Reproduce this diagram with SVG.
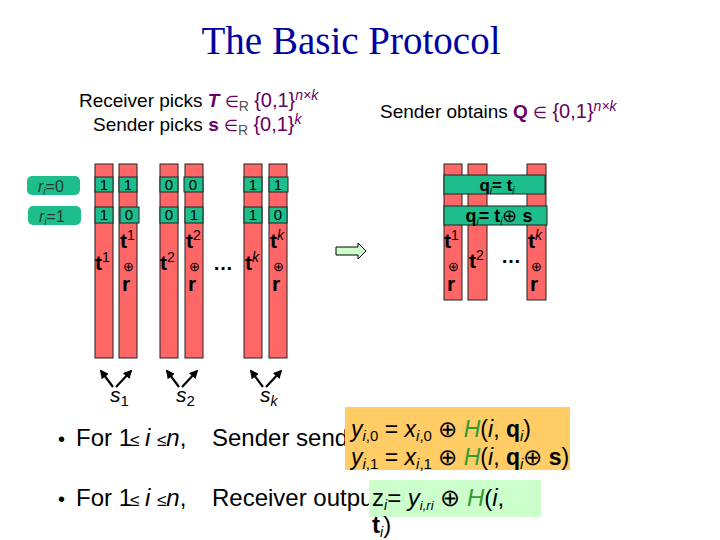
<svg xmlns="http://www.w3.org/2000/svg" width="720" height="540" viewBox="0 0 720 540">
<defs>
<style>
text{font-family:"Liberation Sans",Arial,sans-serif;fill:#000}
.col{fill:#FF6666;stroke:#222;stroke-width:1}
.cell{fill:#1DBE8C;stroke:#222;stroke-width:1}
.band{fill:#1DBE8C;stroke:#222;stroke-width:1}
.lab{fill:#1DBE8C}
.cv{font-size:15px;text-anchor:middle}
.tb{font-size:21px;font-weight:bold}
.sup{font-size:14px;font-weight:normal}
.op{font-size:13px;text-anchor:middle}
.pu{fill:#660066}
.gr{fill:#339933}
.arr{stroke:#000;stroke-width:2.2;fill:none;marker-end:url(#ah)}
</style>
<marker id="ah" viewBox="0 0 10 10" refX="8" refY="5" markerWidth="4" markerHeight="4" orient="auto"><path d="M0,0 L10,5 L0,10 z" fill="#000"/></marker>
</defs>
<rect width="720" height="540" fill="#fff"/>
<text x="351" y="54" text-anchor="middle" style="font-family:'Liberation Serif','Times New Roman',serif;font-size:39px;fill:#0000A0">The Basic Protocol</text>

<g id="receiver-picks">
<text x="79" y="107" style="font-size:19px">Receiver picks <tspan class="pu" font-style="italic" font-weight="bold">T</tspan> <tspan class="pu" font-size="16">∈</tspan><tspan fill="#555" font-size="14" dy="4">R</tspan> <tspan class="pu" dy="-4" font-size="20">{0,1}</tspan><tspan class="pu" font-size="14" font-style="italic" dy="-7">n×k</tspan></text>
<text x="93" y="131" style="font-size:19px">Sender picks <tspan class="pu" font-weight="bold">s</tspan> <tspan class="pu" font-size="16">∈</tspan><tspan fill="#555" font-size="14" dy="4">R</tspan> <tspan class="pu" dy="-4" font-size="20">{0,1}</tspan><tspan class="pu" font-size="14" font-style="italic" dy="-7">k</tspan></text>
</g>
<g id="sender-obtains">
<text x="380" y="118" style="font-size:19px">Sender obtains <tspan class="pu" font-weight="bold">Q</tspan> <tspan class="pu" font-size="16">∈</tspan> <tspan class="pu" font-size="20">{0,1}</tspan><tspan class="pu" font-size="14" font-style="italic" dy="-7">n×k</tspan></text>
</g>

<g id="label-r0">
<rect class="lab" x="27" y="176" width="53" height="19" rx="5"/>
<text x="38" y="192" style="font-size:16px;fill:#2b3b33"><tspan font-style="italic" style="fill:#2b3b33">r</tspan><tspan font-style="italic" font-size="10" dy="3" style="fill:#2b3b33">i</tspan><tspan dy="-3" style="fill:#2b3b33">=0</tspan></text>
</g>
<g id="label-r1">
<rect class="lab" x="28" y="206" width="53" height="19" rx="5"/>
<text x="39" y="222" style="font-size:16px;fill:#2b3b33"><tspan font-style="italic" style="fill:#2b3b33">r</tspan><tspan font-style="italic" font-size="10" dy="3" style="fill:#2b3b33">i</tspan><tspan dy="-3" style="fill:#2b3b33">=1</tspan></text>
</g>

<g id="col-t1">
<rect class="col" x="95" y="164" width="18" height="194"/>
<rect class="cell" x="95" y="177" width="18" height="15"/><text class="cv" x="104" y="190">1</text>
<rect class="cell" x="95" y="207" width="18" height="16"/><text class="cv" x="104" y="220">1</text>
<text class="tb" x="95" y="270">t<tspan class="sup" dy="-8">1</tspan></text>
</g>
<g id="col-t1r">
<rect class="col" x="119" y="164" width="18" height="194"/>
<rect class="cell" x="119" y="177" width="18" height="15"/><text class="cv" x="128" y="190">1</text>
<rect class="cell" x="120" y="207" width="19" height="16"/><text class="cv" x="129" y="220">0</text>
<text class="tb" x="120" y="248">t<tspan class="sup" dy="-8">1</tspan></text>
<text class="op" x="128" y="271">⊕</text>
<text class="tb" x="122" y="291">r</text>
</g>
<g id="col-t2">
<rect class="col" x="160" y="164" width="18" height="194"/>
<rect class="cell" x="160" y="177" width="18" height="15"/><text class="cv" x="169" y="190">0</text>
<rect class="cell" x="160" y="207" width="18" height="16"/><text class="cv" x="169" y="220">0</text>
<text class="tb" x="160" y="270">t<tspan class="sup" dy="-8">2</tspan></text>
</g>
<g id="col-t2r">
<rect class="col" x="185" y="164" width="18" height="194"/>
<rect class="cell" x="184" y="177" width="19" height="15"/><text class="cv" x="193" y="190">0</text>
<rect class="cell" x="185" y="207" width="18" height="16"/><text class="cv" x="194" y="220">1</text>
<text class="tb" x="186" y="248">t<tspan class="sup" dy="-8">2</tspan></text>
<text class="op" x="194" y="271">⊕</text>
<text class="tb" x="188" y="291">r</text>
</g>
<text x="213" y="270" style="font-size:20px;font-weight:bold">…</text>
<g id="col-tk">
<rect class="col" x="244" y="164" width="18" height="194"/>
<rect class="cell" x="244" y="177" width="18" height="15"/><text class="cv" x="253" y="190">1</text>
<rect class="cell" x="244" y="207" width="18" height="16"/><text class="cv" x="253" y="220">1</text>
<text class="tb" x="245" y="270">t<tspan class="sup" font-style="italic" dy="-8">k</tspan></text>
</g>
<g id="col-tkr">
<rect class="col" x="269" y="164" width="18" height="194"/>
<rect class="cell" x="269" y="177" width="19" height="15"/><text class="cv" x="278" y="190">1</text>
<rect class="cell" x="269" y="207" width="18" height="16"/><text class="cv" x="278" y="220">0</text>
<text class="tb" x="270" y="248">t<tspan class="sup" font-style="italic" dy="-8">k</tspan></text>
<text class="op" x="278" y="271">⊕</text>
<text class="tb" x="272" y="291">r</text>
</g>

<g id="connectors">
<line class="arr" x1="113" y1="387" x2="101" y2="371"/>
<line class="arr" x1="116" y1="387" x2="131" y2="371"/>
<line class="arr" x1="179" y1="387" x2="167" y2="371"/>
<line class="arr" x1="182" y1="387" x2="197" y2="371"/>
<line class="arr" x1="263" y1="387" x2="251" y2="371"/>
<line class="arr" x1="266" y1="387" x2="281" y2="371"/>
<path d="M336,247 H358 V243 L366,251 L358,259 V255 H336 Z" fill="#CCFFCC" stroke="#000" stroke-width="1"/>
</g>
<g id="s-labels">
<text x="110" y="402" style="font-size:21px;font-style:italic">s<tspan font-size="15" font-style="normal" dy="4">1</tspan></text>
<text x="176" y="402" style="font-size:21px;font-style:italic">s<tspan font-size="15" font-style="normal" dy="4">2</tspan></text>
<text x="260" y="402" style="font-size:21px;font-style:italic">s<tspan font-size="14" dy="4">k</tspan></text>
</g>

<g id="sender-cols">
<rect class="col" x="444" y="164" width="18" height="136"/>
<rect class="col" x="468" y="164" width="19" height="136"/>
<rect class="col" x="527" y="164" width="19" height="136"/>
<rect class="band" x="444" y="175" width="101" height="19"/>
<text x="497" y="191" text-anchor="middle" style="font-size:17px;font-weight:bold">q<tspan font-size="10" font-style="italic" font-weight="normal" dy="3">i</tspan><tspan dy="-3">= t</tspan><tspan font-size="10" font-style="italic" font-weight="normal" dy="3">i</tspan></text>
<rect class="band" x="444" y="206" width="103" height="19"/>
<text x="499" y="222" text-anchor="middle" style="font-size:18px;font-weight:bold">q<tspan font-size="10" font-style="italic" font-weight="normal" dy="3">i</tspan><tspan dy="-3">= t</tspan><tspan font-size="10" font-style="italic" font-weight="normal" dy="3">i</tspan><tspan font-weight="normal" dy="-3">⊕</tspan> s</text>
<text class="tb" x="444" y="248">t<tspan class="sup" dy="-8">1</tspan></text>
<text class="op" x="453" y="271">⊕</text>
<text class="tb" x="447" y="291">r</text>
<text class="tb" x="469" y="268">t<tspan class="sup" dy="-8">2</tspan></text>
<text x="501" y="263" style="font-size:20px;font-weight:bold">…</text>
<text class="tb" x="528" y="248">t<tspan class="sup" font-style="italic" dy="-8">k</tspan></text>
<text class="op" x="536" y="271">⊕</text>
<text class="tb" x="530" y="291">r</text>
</g>

<g id="bullet-sender">
<text x="58" y="446" style="font-size:20px">•</text>
<text x="76" y="446" style="font-size:24px">For 1<tspan x="130" font-size="17">≤</tspan><tspan x="145" font-style="italic">i</tspan><tspan x="157" font-size="17">≤</tspan><tspan font-style="italic">n</tspan>,<tspan x="212">Sender sends</tspan></text>
<rect x="345" y="407" width="225" height="63" fill="#FFCC66"/>
<text x="351" y="437" style="font-size:23px"><tspan font-style="italic">y</tspan><tspan font-size="15" font-style="italic" dy="4">i</tspan><tspan font-size="15">,0</tspan><tspan dy="-4"> = </tspan><tspan font-style="italic">x</tspan><tspan font-size="15" font-style="italic" dy="4">i</tspan><tspan font-size="15">,0</tspan><tspan dy="-4"> ⊕ </tspan><tspan class="gr" font-style="italic">H</tspan>(<tspan font-style="italic">i</tspan>, <tspan font-weight="bold">q</tspan><tspan font-size="15" font-style="italic" dy="4">i</tspan><tspan dy="-4">)</tspan></text>
<text x="351" y="465" style="font-size:23px"><tspan font-style="italic">y</tspan><tspan font-size="15" font-style="italic" dy="4">i</tspan><tspan font-size="15">,1</tspan><tspan dy="-4"> = </tspan><tspan font-style="italic">x</tspan><tspan font-size="15" font-style="italic" dy="4">i</tspan><tspan font-size="15">,1</tspan><tspan dy="-4"> ⊕ </tspan><tspan class="gr" font-style="italic">H</tspan>(<tspan font-style="italic">i</tspan>, <tspan font-weight="bold">q</tspan><tspan font-size="15" font-style="italic" dy="4">i</tspan><tspan dy="-4">⊕ </tspan><tspan font-weight="bold">s</tspan>)</text>
</g>

<g id="bullet-receiver">
<text x="58" y="506" style="font-size:20px">•</text>
<text x="76" y="506" style="font-size:24px">For 1<tspan x="130" font-size="17">≤</tspan><tspan x="145" font-style="italic">i</tspan><tspan x="157" font-size="17">≤</tspan><tspan font-style="italic">n</tspan>,<tspan x="212">Receiver outputs</tspan></text>
<rect x="369" y="480" width="172" height="37" fill="#CCFFCC"/>
<text x="372" y="506" style="font-size:24px">z<tspan font-size="14" font-style="italic" dy="4">i</tspan><tspan dy="-4">= </tspan><tspan font-style="italic">y</tspan><tspan font-size="13" font-style="italic" dy="4">i,ri</tspan><tspan dy="-4"> ⊕ </tspan><tspan class="gr" font-style="italic">H</tspan>(<tspan font-style="italic">i</tspan>,</text>
<text x="372" y="533" style="font-size:24px"><tspan font-weight="bold">t</tspan><tspan font-size="14" font-style="italic" dy="4">i</tspan><tspan dy="-4">)</tspan></text>
</g>
</svg>
